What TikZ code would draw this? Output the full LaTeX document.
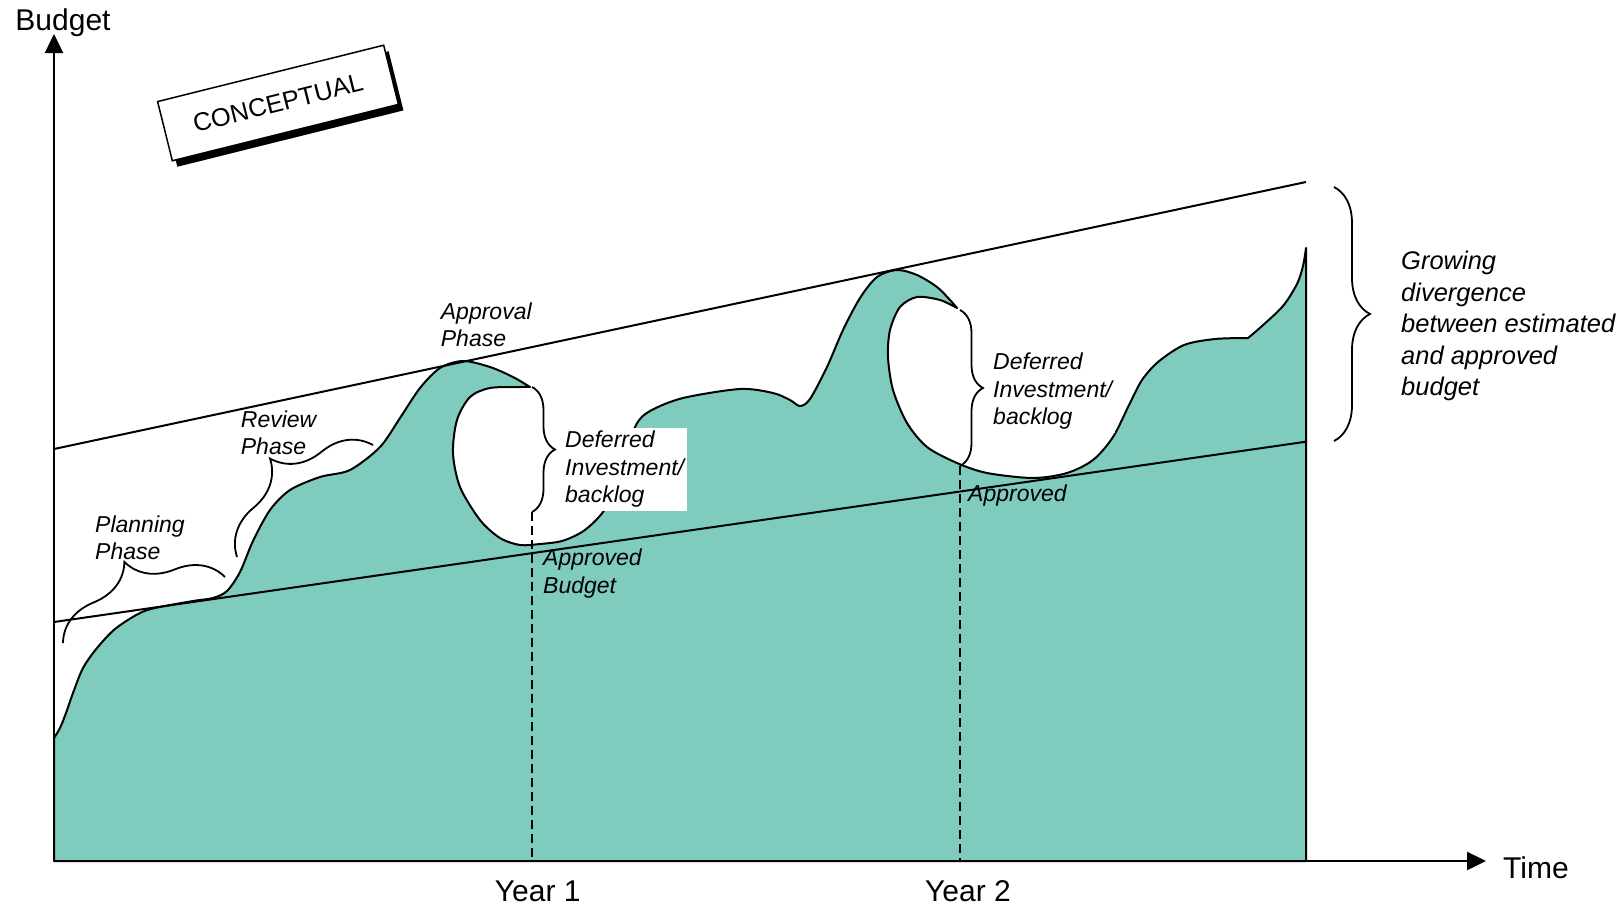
\documentclass[tikz,border=0pt]{standalone}
\usepackage{fontspec}
\setmainfont{Liberation Sans}
\usetikzlibrary{arrows.meta,decorations.pathreplacing,shadows}

\definecolor{wavefill}{RGB}{127,203,189}

\tikzset{
  phase text/.style={font=\fontsize{23}{27.5}\selectfont\itshape, align=left, anchor=west, inner sep=0pt},
  axis text/.style={font=\fontsize{30}{36}\selectfont, inner sep=0pt},
  axisline/.style={line width=2.4pt, -{Triangle[length=19pt,width=18pt]}},
  curly/.style={decorate, decoration={brace, amplitude=#1pt}, line width=1.8pt},
  yearline/.style={line width=1.5pt, dash pattern=on 9pt off 5pt},
}

\begin{document}
\begin{tikzpicture}[x=1pt,y=-1pt]
  \useasboundingbox (0,0) rectangle (1622,905);

  \coordinate (o) at (54,861);
  \coordinate (ytop) at (54,34);
  \coordinate (xend) at (1486,861);

  % budget actually spent
  \filldraw[fill=wavefill, draw=black, line width=2pt, line join=round]
    (o) -- (54,738)
    -- plot[smooth] coordinates {(54,738) (60,728) (66,713) (73,693) (83,668) (97,648) (115,629) (138,614) (155,608) (193,601) (213,598) (227,591) (240,572) (253,541) (270,510) (290,490) (320,477) (350,470) (380,447) (400,418) (420,388) (440,368) (463,361) (490,367) (513,377) (530,387)}
    -- plot[smooth] coordinates {(530,387) (520,387) (490,388) (470,397) (457,420) (453,453) (460,487) (480,520) (500,538) (520,545) (540,544) (562,541) (582,532) (598,518) (608,503) (622,462) (636,425) (650,411) (683,398) (740,389) (773,393) (790,400) (800,406) (810,399) (827,367) (843,330) (860,298) (877,277) (897,270) (917,275) (937,287) (950,300) (957,308)}
    -- plot[smooth] coordinates {(957,308) (940,300) (917,297) (900,307) (890,330) (888,357) (893,390) (907,423) (927,447) (957,463) (987,473) (1033,478) (1067,473) (1093,460) (1113,437) (1130,403) (1142,380) (1158,362) (1184,345) (1215,339) (1248,338)}
    -- plot[smooth] coordinates {(1248,338) (1262,326) (1283,306) (1297,284) (1303,266) (1306,248)}
    -- (1306,861) -- cycle;

  % estimated and approved budget
  \coordinate (est0) at (54,449);
  \coordinate (est1) at (1306,182);
  \coordinate (app0) at (54,622);
  \coordinate (app1) at (1306,441.7);
  \draw[line width=2pt] (est0) -- (est1);
  \draw[line width=2pt] (app0) -- (app1);

  % year marks
  \coordinate (tip1) at (532,387);
  \coordinate (low1) at (532,512);
  \coordinate (tip2) at (960,310);
  \coordinate (low2) at (960,466);
  \draw[yearline] (low1) -- (low1 |- o);
  \draw[yearline] (low2) -- (low2 |- o);

  \node[phase text, fill=white, inner sep=3pt] (defer1) at (562,469.5) {Deferred\\Investment/\\backlog};
  \node[phase text, fill=white, inner sep=3pt] (defer2) at (990,391.5) {Deferred\\Investment/\\backlog};
  \node[phase text] (plan) at (95,538) {Planning\\Phase};
  \node[phase text] (review) at (240.7,433) {Review\\Phase};
  \node[phase text] (approval) at (440.7,325) {Approval\\Phase};
  \node[phase text] (appr1) at (543,573.5) {Approved\\Budget};
  \node[phase text] (appr2) at (968,496) {Approved};
  \node[phase text, font=\fontsize{25.5}{31.5}\selectfont\itshape] (gap) at (1401,326) {Growing\\divergence\\between estimated\\and approved\\budget};

  % braces
  \coordinate (pl0) at (63,643);
  \coordinate (pl1) at (225,577);
  \coordinate (rv0) at (237,557);
  \coordinate (rv1) at (373,445);
  \coordinate (gr0) at (1334,187);
  \coordinate (gr1) at (1334,441);
  \draw[curly=52] (pl0) -- (pl1);
  \draw[curly=55] (rv0) -- (rv1);
  \draw[curly=23] (tip1) -- (low1);
  \draw[curly=23] (tip2) -- (low2);
  \draw[curly=36] (gr0) -- (gr1);

  % axes
  \draw[axisline] (o) -- (ytop);
  \draw[axisline] (o) -- (xend);
  \node[axis text] (budget) at (63,23) {Budget};
  \node[axis text, anchor=west] (time) at (1503,868) {Time};
  \node[axis text] (year1) at (537.7,891) {Year 1};
  \node[axis text] (year2) at (968,891) {Year 2};

  \node[draw, fill=white, line width=1.5pt, rotate=14, minimum width=233pt, minimum height=61pt,
        font=\fontsize{25.5}{30}\selectfont,
        drop shadow={shadow xshift=5pt, shadow yshift=-6pt, fill=black, opacity=1}] (stamp) at (278,103) {CONCEPTUAL};

\end{tikzpicture}
\end{document}
